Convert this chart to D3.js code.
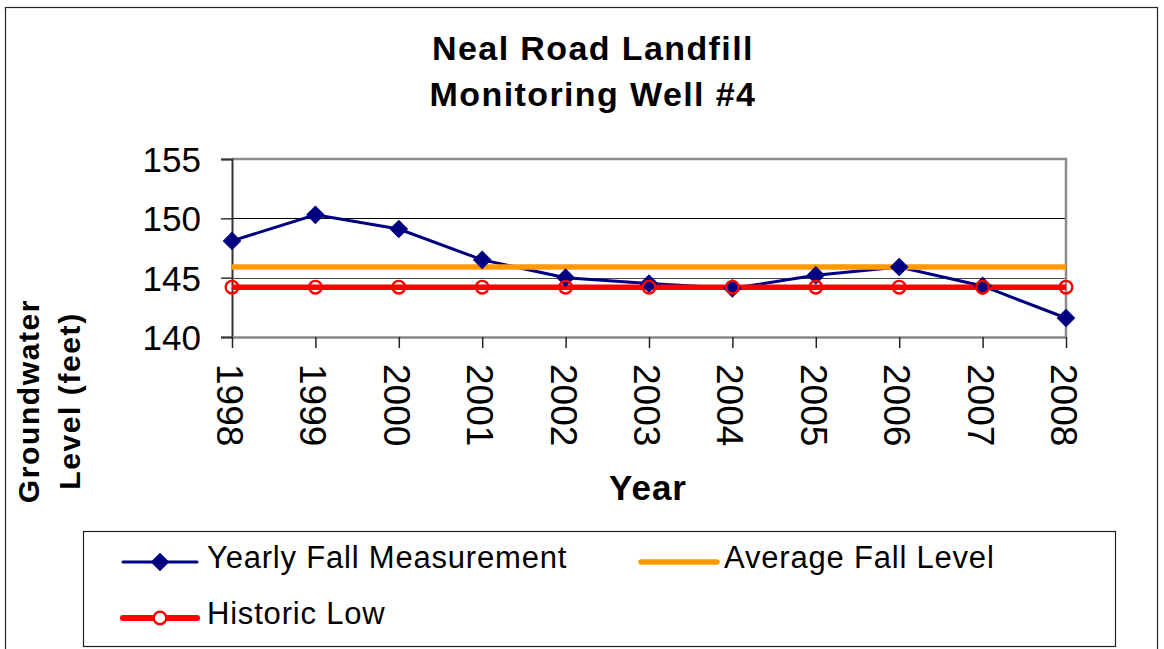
<!doctype html>
<html lang="en">
<head>
  <meta charset="utf-8">
  <title>Neal Road Landfill - Monitoring Well #4</title>
  <style type="text/css">
    body{ margin:0; background:#fff; }
    text{ font-family: Arial, "Liberation Sans", Helvetica, sans-serif; fill:#000; }
  </style>
</head>
<body>
  <div id="vis"></div>
  <script src="https://cdn.jsdelivr.net/npm/d3@7/dist/d3.min.js"></script>
  <script type="text/javascript">

    var years = [1998,1999,2000,2001,2002,2003,2004,2005,2006,2007,2008];
    var fallMeasurement = [148.1,150.3,149.1,146.5,145.0,144.5,144.1,145.2,145.9,144.3,141.6];
    var averageFall = [145.9,145.9,145.9,145.9,145.9,145.9,145.9,145.9,145.9,145.9,145.9];
    var historicLow = [144.2,144.2,144.2,144.2,144.2,144.2,144.2,144.2,144.2,144.2,144.2];
    var yTicks = [140,145,150,155];
    var titleLines = ['Neal Road Landfill','Monitoring Well #4'];
    var legendLabels = ['Yearly Fall Measurement','Average Fall Level','Historic Low'];

    var width = 1164, height = 649;
    var plot = {left:232, right:1066, top:159, bottom:337};

    var svg = d3.select('#vis').append('svg')
      .attr('width', width).attr('height', height);

    // outer chart frame
    svg.append('rect')
      .attr('x', 5.5).attr('y', 7.5)
      .attr('width', 1152).attr('height', 670)
      .style('fill','none').style('stroke','#222').style('stroke-width',1.2);

    var x = d3.scalePoint().domain(years).range([plot.left, plot.right]);
    var y = d3.scaleLinear().domain([140,155]).range([plot.bottom, plot.top]);

    // title
    svg.selectAll('.title').data(titleLines).enter().append('text')
      .attr('class','title')
      .attr('x', 593)
      .attr('y', function(d,i){ return 60 + i*46; })
      .attr('text-anchor','middle')
      .style('font-size','34px')
      .style('font-weight','bold')
      .style('letter-spacing','1.4px')
      .text(function(d){ return d; });

    // gridlines
    svg.append('g').selectAll('line').data([145,150]).enter().append('line')
      .attr('x1', plot.left).attr('x2', plot.right)
      .attr('y1', function(d){ return Math.round(y(d))+0.5; })
      .attr('y2', function(d){ return Math.round(y(d))+0.5; })
      .style('stroke', function(d){ return d==150 ? '#000' : '#444'; })
      .style('stroke-width',1.2);

    // plot area border top/right
    svg.append('path')
      .attr('d','M'+plot.left+','+plot.top+'H'+plot.right+'V'+plot.bottom)
      .style('fill','none').style('stroke','#8c8c8c').style('stroke-width',2.5);

    // y axis
    var yAxis = d3.axisLeft(y).tickValues(yTicks).tickSize(11).tickPadding(20).tickFormat(d3.format('d'));
    var gy = svg.append('g').attr('transform','translate('+plot.left+',0)').call(yAxis);
    gy.select('.domain').style('stroke','#333').style('stroke-width',2);
    gy.selectAll('.tick line').style('stroke','#333').style('stroke-width',1.5);
    gy.selectAll('.tick text')
      .style('font-family','Arial, "Liberation Sans", sans-serif')
      .style('font-size','35px').attr('dy','0.36em');

    // x axis
    var xAxis = d3.axisBottom(x).tickSize(11).tickSizeOuter(0);
    var gx = svg.append('g').attr('transform','translate(0,'+plot.bottom+')').call(xAxis);
    gx.select('.domain').style('stroke','#888').style('stroke-width',2.5);
    gx.selectAll('.tick line').style('stroke','#222').style('stroke-width',1.5);
    gx.selectAll('.tick text')
      .style('font-family','Arial, "Liberation Sans", sans-serif')
      .style('font-size','37px')
      .attr('text-anchor','start')
      .attr('y', 0).attr('dy','0.34em')
      .attr('transform','translate(-3,27) rotate(90)');

    // axis titles
    svg.append('text')
      .attr('x', 648).attr('y', 500)
      .attr('text-anchor','middle')
      .style('font-size','35px').style('font-weight','bold').style('letter-spacing','1px')
      .text('Year');

    var yTitle = svg.append('text')
      .attr('transform','translate(39,401) rotate(-90)')
      .attr('text-anchor','middle')
      .style('font-size','30px').style('font-weight','bold').style('letter-spacing','1.6px');
    yTitle.append('tspan').attr('x',0).attr('y',0).text('Groundwater');
    yTitle.append('tspan').attr('x',0).attr('y',41).text('Level (feet)');

    var line = d3.line()
      .x(function(d,i){ return x(years[i]); })
      .y(function(d){ return y(d); });

    var diamond = d3.symbol().type(d3.symbolSquare).size(175);

    // series lines
    svg.append('path').attr('d', line(fallMeasurement))
      .style('fill','none').style('stroke','#000080').style('stroke-width',3);
    svg.append('path').attr('d', line(averageFall))
      .style('fill','none').style('stroke','#ff9900').style('stroke-width',5.5);
    svg.append('path').attr('d', line(historicLow))
      .style('fill','none').style('stroke','#ff0000').style('stroke-width',5.5);

    // markers
    svg.append('g').selectAll('path').data(fallMeasurement).enter().append('path')
      .attr('d', diamond)
      .attr('transform', function(d,i){ return 'translate('+x(years[i])+','+y(d)+') rotate(45)'; })
      .style('fill','#000080');

    svg.append('g').selectAll('circle').data(historicLow).enter().append('circle')
      .attr('cx', function(d,i){ return x(years[i]); })
      .attr('cy', function(d){ return y(d); })
      .attr('r', 6.3)
      .style('fill','none').style('stroke','#ff0000').style('stroke-width',2.4);

    // legend
    var lg = svg.append('g');
    lg.append('rect')
      .attr('x', 83.5).attr('y', 531.5).attr('width', 1032).attr('height', 115)
      .style('fill','#fff').style('stroke','#222').style('stroke-width',1.2);

    var legendItems = [
      {label:legendLabels[0], color:'#000080', w:3, x1:123, x2:197, tx:207, ly:562, marker:'diamond'},
      {label:legendLabels[1], color:'#ff9900', w:5.5, x1:641, x2:717, tx:724, ly:562, marker:null},
      {label:legendLabels[2], color:'#ff0000', w:6, x1:123, x2:197, tx:207, ly:618, marker:'circle'}
    ];

    legendItems.forEach(function(it){
      lg.append('line')
        .attr('x1', it.x1).attr('x2', it.x2).attr('y1', it.ly).attr('y2', it.ly)
        .style('stroke', it.color).style('stroke-width', it.w).style('stroke-linecap','round');
      var mx = (it.x1 + it.x2)/2;
      if(it.marker == 'diamond'){
        lg.append('path').attr('d', diamond)
          .attr('transform','translate('+mx+','+it.ly+') rotate(45)')
          .style('fill', it.color);
      } else if(it.marker == 'circle'){
        lg.append('circle').attr('cx', mx).attr('cy', it.ly).attr('r', 6.3)
          .style('fill','#fff').style('stroke', it.color).style('stroke-width',2.4);
      }
      lg.append('text')
        .attr('x', it.tx).attr('y', it.ly + 6)
        .style('font-size','31px').style('letter-spacing','0.8px')
        .text(it.label);
    });

  </script>
</body>
</html>
